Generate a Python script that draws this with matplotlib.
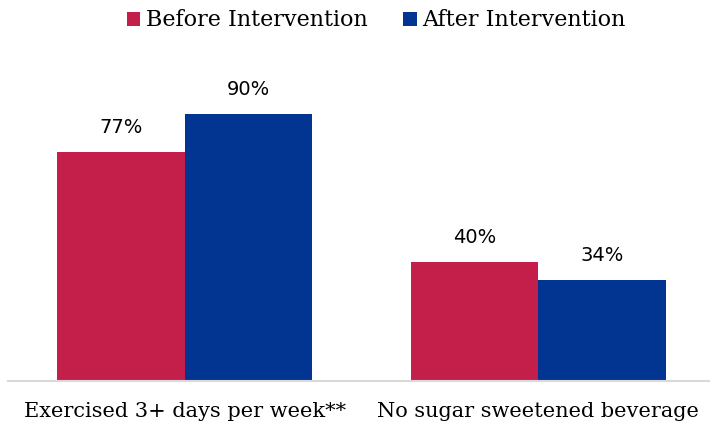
import numpy as np
import matplotlib.pyplot as plt

categories = ["Exercised 3+ days per week**", "No sugar sweetened beverage"]
before = [77, 40]
after = [90, 34]
series_names = ["Before Intervention", "After Intervention"]
colors = ["#C41E4B", "#023591"]

fig = plt.figure(figsize=(7.1, 4.26), dpi=100)
ax = fig.add_axes([0.0113, 0.1056, 0.9887, 0.697])

x = np.arange(len(categories))
w = 0.361
b1 = ax.bar(x - w / 2, before, w, color=colors[0], label=series_names[0])
b2 = ax.bar(x + w / 2, after, w, color=colors[1], label=series_names[1])

for bars in (b1, b2):
    for bar in bars:
        ax.annotate(f"{bar.get_height():.0f}%",
                    (bar.get_x() + bar.get_width() / 2, bar.get_height()),
                    xytext=(0, 11), textcoords="offset points",
                    ha="center", va="bottom", fontsize=14, family="DejaVu Sans")

ax.set_xlim(-0.501, 1.487)
ax.set_ylim(0, 100)
ax.set_xticks(x)
ax.set_xticklabels(categories, fontsize=15, family="DejaVu Serif")
ax.tick_params(axis="x", length=0, pad=15)
ax.set_yticks([])
for s in ["top", "right", "left"]:
    ax.spines[s].set_visible(False)
ax.spines["bottom"].set_color("#d9d9d9")
ax.spines["bottom"].set_linewidth(1.5)

fig.legend(loc="center", bbox_to_anchor=(0.53, 0.952), ncol=2, frameon=False,
           prop={"family": "DejaVu Serif", "size": 16}, handlelength=0.6,
           handleheight=0.6, handletextpad=0.25, columnspacing=1.6)

fig.savefig("out.png")
